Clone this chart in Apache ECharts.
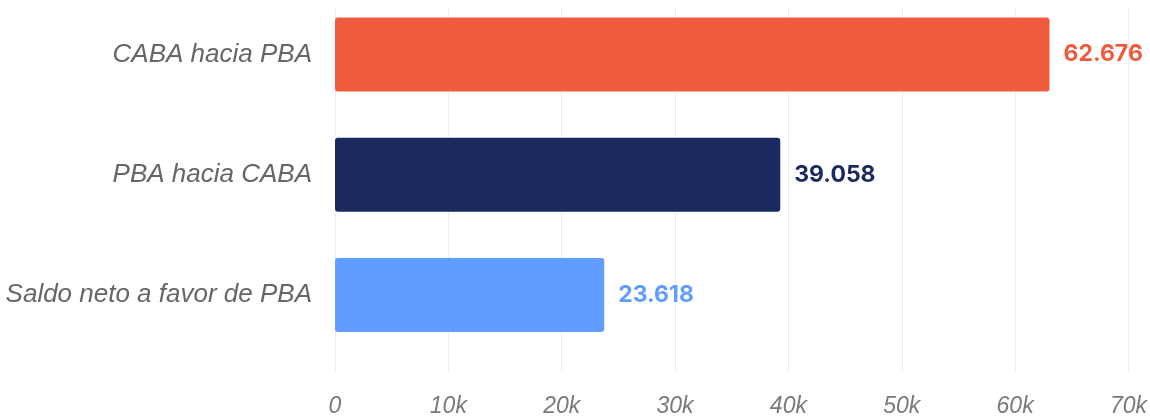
<!DOCTYPE html>
<html>
<head>
<meta charset="utf-8">
<script src="https://cdn.jsdelivr.net/npm/echarts@6/dist/echarts.min.js"></script>
<style>
html,body{margin:0;padding:0;background:#fff;}
#c{width:1150px;height:418px;}
</style>
</head>
<body>
<div id="c"></div>
<script>
const categories = ["CABA hacia PBA", "PBA hacia CABA", "Saldo neto a favor de PBA"];
const values = [62676, 39058, 23618];
const barColors = ["#EF5B3D", "#1B2A5E", "#619DFF"];
const axisMin = 0, axisMax = 70000, axisStep = 10000;

function fmtNum(v) {
  return String(v).replace(/\B(?=(\d{3})+(?!\d))/g, ".");
}

const chart = echarts.init(document.getElementById('c'));
chart.setOption({
  animation: false,
  grid: [
    { left: 335, right: 17, top: 54.5, height: 240.5 },
    { left: 335, right: 17, top: 8, bottom: 41 }
  ],
  xAxis: [
    { gridIndex: 0, type: 'value', min: axisMin, max: axisMax, interval: axisStep, show: false },
    {
      gridIndex: 1, type: 'value', min: axisMin, max: axisMax, interval: axisStep,
      axisLine: { show: false }, axisTick: { show: false },
      splitLine: { show: true, lineStyle: { color: '#ececec', width: 1 } },
      axisLabel: {
        formatter: v => v === 0 ? '0' : (v / 1000) + 'k',
        fontFamily: 'Liberation Sans', fontStyle: 'italic', fontSize: 23, color: '#7a7a7a', margin: 23
      }
    }
  ],
  yAxis: [
    {
      gridIndex: 0, type: 'category', data: categories, inverse: true, boundaryGap: false,
      axisLine: { show: false }, axisTick: { show: false }, splitLine: { show: false },
      axisLabel: { fontFamily: 'Liberation Sans', fontStyle: 'italic', fontSize: 26, color: '#666', margin: 23 }
    },
    { gridIndex: 1, type: 'value', show: false }
  ],
  series: [{
    type: 'bar',
    xAxisIndex: 0, yAxisIndex: 0,
    barWidth: 74,
    clip: false,
    z: 3,
    data: values.map((v, i) => ({
      value: v,
      itemStyle: { color: barColors[i], borderRadius: 3 },
      label: { color: barColors[i] }
    })),
    label: {
      show: true, position: 'right', distance: 14,
      formatter: p => fmtNum(p.value),
      fontFamily: 'Inter', fontWeight: 700, fontSize: 23
    }
  }]
});
</script>
</body>
</html>
